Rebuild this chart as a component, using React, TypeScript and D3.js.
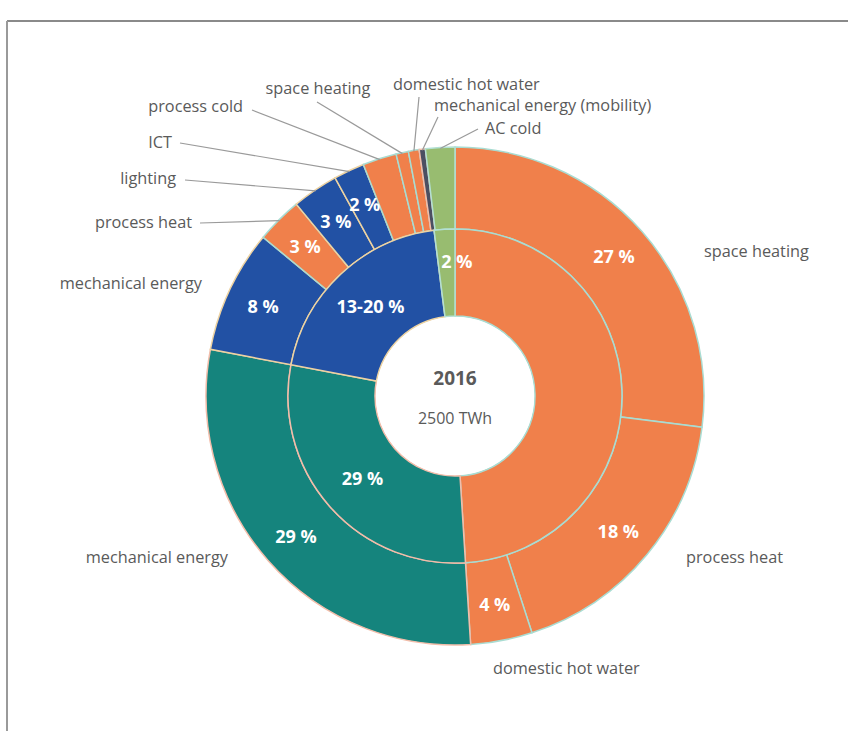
import React, { useEffect } from "react";
import * as d3 from "d3";

// ---------- data ----------
const innerCategories = ["heat", "mechanical energy", "ICT & lighting", "cold"];
const innerValues = [49, 29, 20, 2];
const innerLabels = ["", "29 %", "13-20 %", "2 %"];
const innerColorKeys = ["orange", "teal", "blue", "green"];

const outerCategories = [
  "space heating",
  "process heat",
  "domestic hot water",
  "mechanical energy",
  "mechanical energy",
  "process heat",
  "lighting",
  "ICT",
  "process cold",
  "space heating",
  "domestic hot water",
  "mechanical energy (mobility)",
  "AC cold",
];
const outerValues = [27, 18, 4, 29, 8, 3, 3, 2, 2.2, 0.8, 0.7, 0.4, 1.9];
const outerLabels = ["27 %", "18 %", "4 %", "29 %", "8 %", "3 %", "3 %", "2 %", "", "", "", "", ""];
const outerColorKeys = [
  "orange", "orange", "orange", "teal", "blue", "orange", "blue", "blue",
  "orange", "orange", "orange", "dark", "green",
];

const centerTitle = "2016";
const centerSubtitle = "2500 TWh";

// ---------- styles ----------
const FILL: Record<string, string> = {
  orange: "#F0804B",
  teal: "#15847D",
  blue: "#2251A4",
  green: "#98BC70",
  dark: "#4B4F62",
};
const STROKE: Record<string, string> = {
  orange: "#A9DCD2",
  teal: "#F2BDAA",
  blue: "#EDD3A2",
  green: "#B3E0D4",
  dark: "#F2BDAA",
};

const W = 848;
const H = 731;
const CX = 455;
const CY = 396;
const R0 = 80;
const R1 = 167;
const R2 = 249;
const FONT = "'Open Sans', 'Noto Sans', sans-serif";
const GREY = "#5a5a5a";

// category label layout (offsets relative to the chart center)
type LabelLayout = { dx: number; dy: number; anchor: string; lx?: number; ly?: number };
const outerLabelLayout: LabelLayout[] = [
  { dx: 249, dy: -145, anchor: "start" },
  { dx: 231, dy: 161, anchor: "start" },
  { dx: 38, dy: 272, anchor: "start" },
  { dx: -227, dy: 161, anchor: "end" },
  { dx: -253, dy: -113, anchor: "end" },
  { dx: -263, dy: -174, anchor: "end", lx: -255, ly: -173 },
  { dx: -279, dy: -218, anchor: "end", lx: -270, ly: -216 },
  { dx: -283, dy: -254, anchor: "end", lx: -275, ly: -253 },
  { dx: -212, dy: -290, anchor: "end", lx: -203, ly: -286 },
  { dx: -137, dy: -308, anchor: "middle", lx: -138, ly: -294 },
  { dx: -62, dy: -312, anchor: "start", lx: -36, ly: -299 },
  { dx: -21, dy: -291, anchor: "start", lx: -17, ly: -279 },
  { dx: 30, dy: -268, anchor: "start", lx: 23, ly: -267 },
];

export default function App() {
  useEffect(() => {
    document.body.style.margin = "0";
  }, []);

  const pie = d3.pie<number>().sort(null).value((d) => d);
  const innerArcs = pie(innerValues);
  const outerArcs = pie(outerValues);

  const innerArc = d3.arc<d3.PieArcDatum<number>>().innerRadius(R0).outerRadius(R1);
  const outerArc = d3.arc<d3.PieArcDatum<number>>().innerRadius(R1).outerRadius(R2);
  const outerLabelArc = d3.arc<d3.PieArcDatum<number>>().innerRadius(R1 + 4).outerRadius(R2 + 4);

  const pointAt = (angle: number, r: number): [number, number] => [
    Math.sin(angle) * r,
    -Math.cos(angle) * r,
  ];

  return (
    <svg width={W} height={H} style={{ display: "block", background: "#fff" }} fontFamily={FONT}>
      {/* frame */}
      <line x1={7} y1={21} x2={W} y2={21} stroke="#8a8a8a" strokeWidth={2} />
      <line x1={7} y1={21} x2={7} y2={H} stroke="#9a9a9a" strokeWidth={2} />

      <g transform={`translate(${CX},${CY})`}>
        {/* outer ring */}
        {outerArcs.map((a, i) => (
          <path
            key={"o" + i}
            d={outerArc(a) || ""}
            fill={FILL[outerColorKeys[i]]}
            stroke={STROKE[outerColorKeys[i]]}
            strokeWidth={1.5}
          />
        ))}
        {/* inner ring */}
        {innerArcs.map((a, i) => (
          <path
            key={"i" + i}
            d={innerArc(a) || ""}
            fill={FILL[innerColorKeys[i]]}
            stroke={STROKE[innerColorKeys[i]]}
            strokeWidth={1.5}
          />
        ))}

        {/* leader lines */}
        {outerArcs.map((a, i) => {
          const lay = outerLabelLayout[i];
          if (lay.lx === undefined || lay.ly === undefined) return null;
          const mid = (a.startAngle + a.endAngle) / 2;
          const [ex, ey] = pointAt(mid, R2 - 1);
          return (
            <line
              key={"l" + i}
              x1={lay.lx}
              y1={lay.ly}
              x2={ex}
              y2={ey}
              stroke="#9a9a9a"
              strokeWidth={1.2}
            />
          );
        })}

        {/* category labels */}
        {outerArcs.map((a, i) => {
          const lay = outerLabelLayout[i];
          return (
            <text
              key={"c" + i}
              x={lay.dx}
              y={lay.dy}
              textAnchor={lay.anchor as any}
              dominantBaseline="central"
              fontSize={16.3}
              fill={GREY}
            >
              {outerCategories[i]}
            </text>
          );
        })}

        {/* percent labels outer */}
        {outerArcs.map((a, i) => {
          if (!outerLabels[i]) return null;
          const [x, y] = outerLabelArc.centroid(a);
          return (
            <text
              key={"p" + i}
              x={x}
              y={y}
              textAnchor="middle"
              dominantBaseline="central"
              fontSize={18}
              fontWeight="bold"
              fill="#fff"
            >
              {outerLabels[i]}
            </text>
          );
        })}

        {/* percent labels inner */}
        {innerArcs.map((a, i) => {
          if (!innerLabels[i]) return null;
          const [x, y] = innerArc.centroid(a);
          const narrow = a.endAngle - a.startAngle < 0.2;
          return (
            <text
              key={"q" + i}
              x={narrow ? x - 6 : x}
              y={narrow ? y - 12 : y}
              textAnchor={narrow ? "start" : "middle"}
              dominantBaseline="central"
              fontSize={18}
              fontWeight="bold"
              fill="#fff"
            >
              {innerLabels[i]}
            </text>
          );
        })}

        {/* center */}
        <circle r={R0 - 1} fill="#fff" />
        <text y={-18} textAnchor="middle" dominantBaseline="central" fontSize={19} fontWeight="bold" fill={GREY}>
          {centerTitle}
        </text>
        <text y={22} textAnchor="middle" dominantBaseline="central" fontSize={16} fill={GREY}>
          {centerSubtitle}
        </text>
      </g>
    </svg>
  );
}
